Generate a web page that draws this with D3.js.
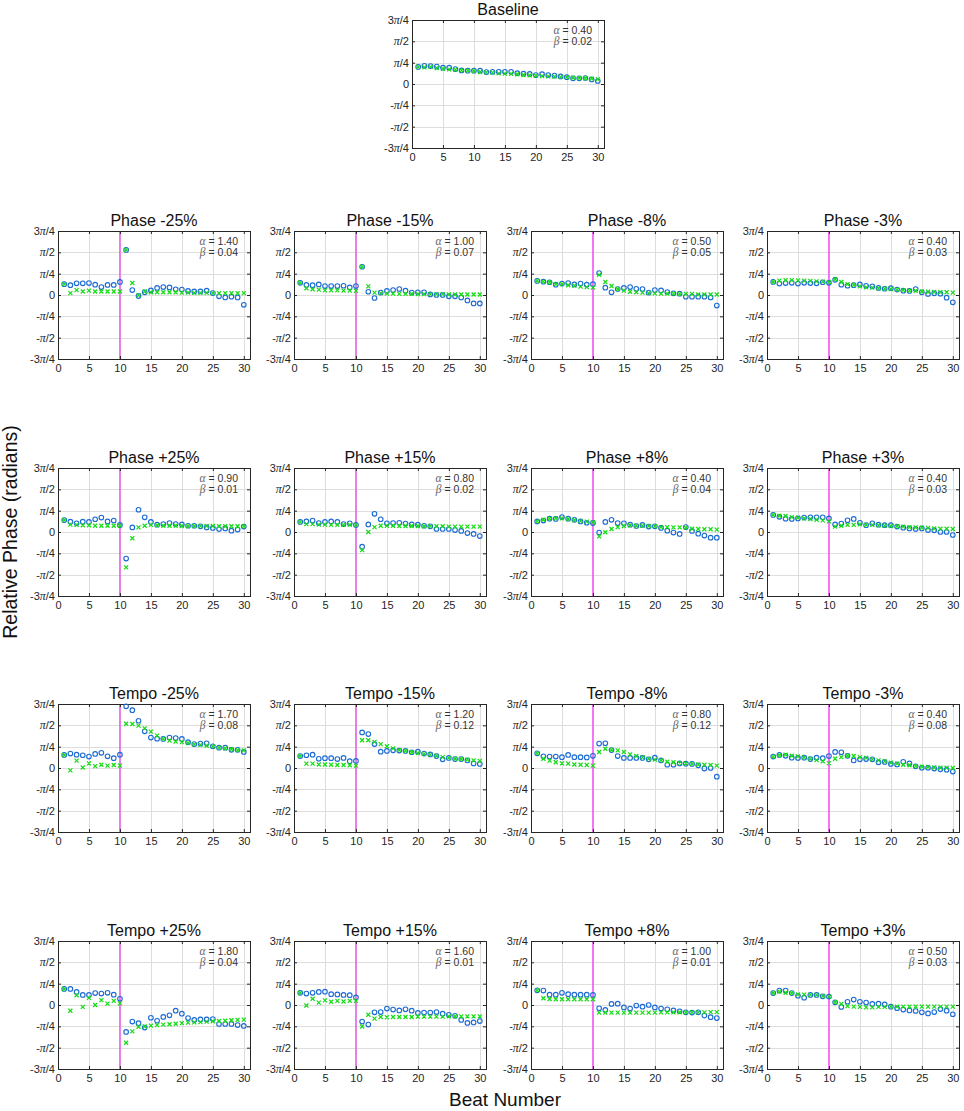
<!DOCTYPE html>
<html>
<head>
<meta charset="utf-8">
<script src="https://cdn.jsdelivr.net/npm/d3@7"></script>
<style>
  body { margin: 0; background: #fff; }
  svg { display: block; font-family: "Liberation Sans", Arial, Helvetica, sans-serif; font-weight: 400; }
</style>
</head>
<body>
<div id="chart"></div>
<script>
// Chart data
var beats = [1,2,3,4,5,6,7,8,9,10,11,12,13,14,15,16,17,18,19,20,21,22,23,24,25,26,27,28,29,30];
var perturbationBeat = 10;

var panelTitles = ["Baseline",
  "Phase -25%", "Phase -15%", "Phase -8%", "Phase -3%",
  "Phase +25%", "Phase +15%", "Phase +8%", "Phase +3%",
  "Tempo -25%", "Tempo -15%", "Tempo -8%", "Tempo -3%",
  "Tempo +25%", "Tempo +15%", "Tempo +8%", "Tempo +3%"];
var alphaValues = ["0.40", "1.40", "1.00", "0.50", "0.40", "0.90", "0.80", "0.40", "0.40",
  "1.70", "1.20", "0.80", "0.40", "1.80", "1.60", "1.00", "0.50"];
var betaValues = ["0.02", "0.04", "0.07", "0.05", "0.03", "0.01", "0.02", "0.04", "0.03",
  "0.08", "0.12", "0.12", "0.08", "0.04", "0.01", "0.01", "0.03"];

var xTickValues = [0, 5, 10, 15, 20, 25, 30];
var yTickValues = [-3*Math.PI/4, -Math.PI/2, -Math.PI/4, 0, Math.PI/4, Math.PI/2, 3*Math.PI/4];
var yTickLabels = ["-3π/4", "-π/2", "-π/4", "0", "π/4", "π/2", "3π/4"];

// observed phase (blue circles) and model fit (green crosses), radians
var obsBaseline = [0.63,0.67,0.66,0.64,0.60,0.60,0.55,0.50,0.49,0.49,0.49,0.44,0.45,0.45,0.45,0.45,0.40,0.38,0.37,0.33,0.36,0.33,0.31,0.28,0.25,0.21,0.21,0.22,0.17,0.11];
var fitBaseline = [0.63,0.61,0.63,0.59,0.56,0.54,0.53,0.50,0.49,0.48,0.44,0.43,0.42,0.39,0.38,0.37,0.36,0.33,0.32,0.31,0.29,0.28,0.27,0.26,0.25,0.23,0.22,0.21,0.20,0.18];

var obsPhaseM25 = [0.40,0.36,0.43,0.43,0.44,0.38,0.29,0.37,0.37,0.48,1.66,0.18,-0.04,0.10,0.17,0.26,0.29,0.28,0.21,0.20,0.15,0.13,0.13,0.16,0.07,-0.05,-0.09,-0.06,-0.09,-0.36];
var fitPhaseM25 = [0.40,0.07,0.18,0.13,0.16,0.13,0.13,0.13,0.13,0.13,1.66,0.44,-0.01,0.13,0.10,0.10,0.10,0.10,0.10,0.09,0.09,0.08,0.08,0.08,0.07,0.07,0.07,0.07,0.07,0.07];
var obsPhaseM15 = [0.45,0.37,0.36,0.39,0.33,0.33,0.33,0.34,0.28,0.33,1.04,0.12,-0.11,0.09,0.15,0.18,0.22,0.16,0.09,0.10,0.10,0.02,0.00,0.00,-0.05,-0.05,-0.09,-0.20,-0.31,-0.31];
var fitPhaseM15 = [0.45,0.25,0.21,0.20,0.17,0.17,0.17,0.16,0.16,0.15,1.04,0.32,0.09,0.07,0.05,0.05,0.04,0.04,0.04,0.03,0.03,0.03,0.03,0.03,0.02,0.02,0.02,0.02,0.02,0.02];
var obsPhaseM8 = [0.52,0.49,0.47,0.38,0.42,0.44,0.39,0.42,0.38,0.40,0.81,0.27,0.10,0.22,0.26,0.29,0.23,0.22,0.09,0.18,0.17,0.11,0.06,0.05,-0.06,-0.06,-0.06,-0.06,-0.09,-0.39];
var fitPhaseM8 = [0.52,0.49,0.47,0.40,0.40,0.36,0.34,0.31,0.29,0.27,0.74,0.48,0.33,0.22,0.16,0.12,0.10,0.09,0.07,0.06,0.05,0.05,0.05,0.04,0.04,0.04,0.02,0.02,0.02,0.02];
var obsPhaseM3 = [0.48,0.42,0.44,0.45,0.42,0.45,0.44,0.43,0.47,0.45,0.56,0.38,0.34,0.36,0.39,0.34,0.32,0.26,0.23,0.25,0.20,0.16,0.15,0.22,0.10,0.04,0.06,0.05,-0.10,-0.27];
var fitPhaseM3 = [0.48,0.53,0.55,0.55,0.54,0.53,0.52,0.50,0.49,0.48,0.58,0.48,0.40,0.37,0.32,0.28,0.27,0.25,0.23,0.22,0.20,0.18,0.16,0.15,0.13,0.12,0.11,0.10,0.10,0.09];

var obsPhaseP25 = [0.44,0.38,0.32,0.38,0.37,0.47,0.53,0.39,0.42,0.26,-0.98,0.17,0.82,0.54,0.37,0.27,0.29,0.33,0.29,0.28,0.23,0.23,0.21,0.17,0.15,0.11,0.13,0.05,0.09,0.20];
var fitPhaseP25 = [0.44,0.27,0.26,0.25,0.25,0.23,0.23,0.23,0.23,0.23,-1.30,-0.23,0.17,0.23,0.26,0.25,0.23,0.23,0.23,0.22,0.22,0.22,0.22,0.22,0.22,0.21,0.21,0.21,0.21,0.21];
var obsPhaseP15 = [0.37,0.39,0.42,0.33,0.37,0.39,0.37,0.29,0.32,0.26,-0.54,0.28,0.67,0.47,0.32,0.33,0.34,0.31,0.28,0.27,0.23,0.21,0.11,0.11,0.11,0.07,0.04,-0.04,-0.07,-0.15];
var fitPhaseP15 = [0.37,0.29,0.29,0.27,0.27,0.26,0.26,0.26,0.26,0.26,-0.67,0.00,0.18,0.23,0.23,0.23,0.22,0.22,0.22,0.22,0.21,0.21,0.21,0.21,0.20,0.20,0.20,0.20,0.20,0.20];
var obsPhaseP8 = [0.39,0.42,0.49,0.48,0.55,0.49,0.45,0.39,0.34,0.33,-0.02,0.37,0.45,0.33,0.32,0.27,0.22,0.26,0.20,0.21,0.15,0.05,-0.02,-0.07,0.18,0.04,-0.06,-0.13,-0.21,-0.21];
var fitPhaseP8 = [0.39,0.45,0.49,0.50,0.50,0.48,0.44,0.40,0.38,0.36,-0.16,-0.01,0.11,0.18,0.22,0.25,0.23,0.23,0.22,0.21,0.18,0.18,0.17,0.17,0.16,0.12,0.11,0.10,0.10,0.09];
var obsPhaseP3 = [0.63,0.56,0.49,0.48,0.50,0.53,0.54,0.54,0.54,0.50,0.28,0.31,0.43,0.48,0.34,0.25,0.32,0.27,0.25,0.25,0.20,0.16,0.13,0.11,0.13,0.07,0.06,0.00,0.00,-0.11];
var fitPhaseP3 = [0.63,0.60,0.59,0.55,0.53,0.50,0.48,0.45,0.43,0.39,0.20,0.23,0.26,0.26,0.28,0.26,0.26,0.25,0.23,0.22,0.21,0.20,0.18,0.17,0.16,0.15,0.13,0.12,0.12,0.11];

var obsTempoM25 = [0.48,0.53,0.49,0.47,0.42,0.52,0.56,0.43,0.36,0.49,2.27,2.13,1.74,1.35,1.12,1.08,1.07,1.12,1.10,1.07,0.95,0.88,0.90,0.91,0.80,0.75,0.75,0.67,0.67,0.59];
var fitTempoM25 = [0.48,-0.09,0.27,0.02,0.17,0.07,0.12,0.09,0.11,0.09,1.63,1.62,1.56,1.46,1.34,1.19,1.07,1.01,0.97,0.95,0.92,0.87,0.85,0.82,0.79,0.75,0.72,0.69,0.66,0.65];
var obsTempoM15 = [0.44,0.47,0.49,0.34,0.36,0.36,0.33,0.37,0.25,0.26,1.31,1.25,0.88,0.60,0.63,0.65,0.64,0.63,0.58,0.60,0.53,0.50,0.44,0.32,0.37,0.33,0.33,0.28,0.17,0.15];
var fitTempoM15 = [0.44,0.16,0.16,0.13,0.13,0.12,0.11,0.11,0.10,0.09,1.02,1.02,0.96,0.88,0.80,0.72,0.66,0.63,0.58,0.55,0.52,0.49,0.45,0.40,0.37,0.34,0.33,0.31,0.28,0.26];
var obsTempoM8 = [0.54,0.43,0.42,0.42,0.40,0.48,0.40,0.40,0.39,0.45,0.90,0.91,0.66,0.44,0.37,0.37,0.37,0.37,0.32,0.38,0.28,0.12,0.12,0.17,0.16,0.15,0.10,-0.02,0.00,-0.32];
var fitTempoM8 = [0.54,0.34,0.27,0.21,0.17,0.16,0.13,0.12,0.11,0.09,0.59,0.71,0.67,0.65,0.59,0.50,0.44,0.39,0.34,0.31,0.28,0.23,0.21,0.18,0.17,0.15,0.13,0.12,0.11,0.09];
var obsTempoM3 = [0.42,0.48,0.45,0.38,0.37,0.38,0.33,0.38,0.36,0.44,0.59,0.58,0.45,0.28,0.32,0.33,0.32,0.21,0.22,0.15,0.13,0.23,0.17,0.06,0.01,0.01,-0.02,-0.05,-0.06,-0.13];
var fitTempoM3 = [0.42,0.47,0.49,0.45,0.43,0.39,0.34,0.29,0.25,0.18,0.34,0.40,0.45,0.44,0.40,0.37,0.32,0.28,0.25,0.20,0.16,0.12,0.10,0.07,0.05,0.04,0.02,0.01,0.01,0.00];

var obsTempoP25 = [0.59,0.59,0.48,0.37,0.37,0.44,0.42,0.45,0.38,0.23,-0.99,-0.61,-0.67,-0.83,-0.47,-0.58,-0.44,-0.38,-0.21,-0.32,-0.48,-0.55,-0.53,-0.53,-0.52,-0.70,-0.70,-0.70,-0.74,-0.77];
var fitTempoP25 = [0.59,-0.21,0.36,-0.07,0.26,0.00,0.18,0.05,0.15,0.06,-1.39,-0.97,-0.80,-0.79,-0.76,-0.74,-0.72,-0.71,-0.69,-0.67,-0.65,-0.64,-0.63,-0.61,-0.60,-0.59,-0.58,-0.56,-0.55,-0.54];
var obsTempoP15 = [0.45,0.42,0.45,0.48,0.49,0.40,0.39,0.37,0.36,0.28,-0.61,-0.72,-0.27,-0.26,-0.13,-0.17,-0.20,-0.16,-0.21,-0.29,-0.28,-0.28,-0.26,-0.32,-0.36,-0.40,-0.55,-0.66,-0.64,-0.59];
var fitTempoP15 = [0.45,-0.02,0.23,0.09,0.17,0.12,0.15,0.13,0.15,0.15,-0.79,-0.36,-0.50,-0.44,-0.45,-0.44,-0.44,-0.44,-0.44,-0.43,-0.43,-0.43,-0.43,-0.43,-0.42,-0.42,-0.42,-0.42,-0.42,-0.42];
var obsTempoP8 = [0.54,0.53,0.38,0.38,0.45,0.40,0.38,0.38,0.38,0.37,-0.12,-0.18,0.04,0.05,-0.09,-0.13,-0.02,-0.06,0.00,-0.09,-0.13,-0.16,-0.20,-0.23,-0.27,-0.28,-0.27,-0.39,-0.45,-0.48];
var fitTempoP8 = [0.54,0.25,0.22,0.21,0.21,0.21,0.21,0.21,0.21,0.21,-0.28,-0.28,-0.28,-0.28,-0.28,-0.28,-0.28,-0.28,-0.28,-0.28,-0.27,-0.27,-0.27,-0.27,-0.27,-0.27,-0.27,-0.27,-0.26,-0.26];
var obsTempoP3 = [0.44,0.53,0.53,0.44,0.34,0.27,0.37,0.37,0.32,0.31,0.10,-0.07,0.12,0.20,0.12,0.09,0.04,0.05,0.02,-0.06,-0.12,-0.17,-0.20,-0.22,-0.27,-0.31,-0.26,-0.15,-0.21,-0.34];
var fitTempoP3 = [0.44,0.49,0.45,0.44,0.39,0.38,0.37,0.37,0.33,0.31,0.10,0.04,-0.04,-0.06,-0.07,-0.09,-0.09,-0.07,-0.07,-0.06,-0.06,-0.06,-0.06,-0.06,-0.06,-0.06,-0.06,-0.06,-0.06,-0.06];

var observed = [obsBaseline, obsPhaseM25, obsPhaseM15, obsPhaseM8, obsPhaseM3,
  obsPhaseP25, obsPhaseP15, obsPhaseP8, obsPhaseP3,
  obsTempoM25, obsTempoM15, obsTempoM8, obsTempoM3,
  obsTempoP25, obsTempoP15, obsTempoP8, obsTempoP3];
var fitted = [fitBaseline, fitPhaseM25, fitPhaseM15, fitPhaseM8, fitPhaseM3,
  fitPhaseP25, fitPhaseP15, fitPhaseP8, fitPhaseP3,
  fitTempoM25, fitTempoM15, fitTempoM8, fitTempoM3,
  fitTempoP25, fitTempoP15, fitTempoP8, fitTempoP3];

// Chart parameters
var svgWidth = 964;
var svgHeight = 1111;
var plotW = 192;
var plotH = 128;
var ink = "#262626";

var svg = d3.select("#chart")
  .append("svg")
  .attr("width", svgWidth)
  .attr("height", svgHeight);

var xScale = d3.scaleLinear().domain([0, 31]).range([0, plotW]);
var yScale = d3.scaleLinear().domain([-3 * Math.PI / 4, 3 * Math.PI / 4]).range([plotH, 0]);

function panelOrigin(i) {
  if (i === 0) return [412, 20];
  var r = Math.floor((i - 1) / 4), c = (i - 1) % 4;
  return [Math.round(58 + c * 236.3), Math.round(231 + r * 236.7)];
}

function crisp(v) { return Math.round(v) + 0.5; }

panelTitles.forEach(function(title, i) {
  var pos = panelOrigin(i);
  var g = svg.append("g").attr("transform", `translate(${pos[0]}, ${pos[1]})`);

  // grid
  g.append("g").selectAll("line").data(xTickValues).enter().append("line")
    .attr("x1", d => crisp(xScale(d))).attr("x2", d => crisp(xScale(d)))
    .attr("y1", 0).attr("y2", plotH)
    .attr("stroke", "#dedede");
  g.append("g").selectAll("line").data(yTickValues).enter().append("line")
    .attr("y1", d => crisp(yScale(d))).attr("y2", d => crisp(yScale(d)))
    .attr("x1", 0).attr("x2", plotW)
    .attr("stroke", "#dedede");

  // perturbation marker
  if (i > 0) {
    g.append("line")
      .attr("x1", xScale(perturbationBeat)).attr("x2", xScale(perturbationBeat))
      .attr("y1", 0).attr("y2", plotH)
      .attr("stroke", "#f23cf2")
      .attr("stroke-width", 1.3);
  }

  // axes, ticks pointing inward
  var leftAxis = g.append("g")
    .call(d3.axisLeft(yScale).tickValues(yTickValues).tickSize(-3).tickPadding(3)
      .tickFormat(d => yTickLabels[yTickValues.indexOf(d)]));
  var bottomAxis = g.append("g")
    .attr("transform", `translate(0, ${plotH})`)
    .call(d3.axisBottom(xScale).tickValues(xTickValues).tickSize(-3).tickPadding(5));
  var rightAxis = g.append("g")
    .attr("transform", `translate(${plotW}, 0)`)
    .call(d3.axisRight(yScale).tickValues(yTickValues).tickSize(-3).tickFormat(""));
  var topAxis = g.append("g")
    .call(d3.axisTop(xScale).tickValues(xTickValues).tickSize(-3).tickFormat(""));

  [leftAxis, bottomAxis, rightAxis, topAxis].forEach(function(a) {
    a.select(".domain").remove();
    a.selectAll(".tick line").attr("stroke", ink);
    a.selectAll(".tick text")
      .attr("fill", ink)
      .style("font-family", "'Liberation Sans', Arial, sans-serif")
      .style("font-size", "11px");
  });

  // pi in italic
  leftAxis.selectAll(".tick text").each(function(d) {
    var t = d3.select(this);
    var parts = yTickLabels[yTickValues.indexOf(d)].split("π");
    t.text(null);
    t.append("tspan").text(parts[0]);
    if (parts.length > 1) {
      t.append("tspan")
        .style("font-family", "'Liberation Serif', serif")
        .style("font-style", "italic")
        .style("font-size", "12px")
        .text("π");
      t.append("tspan").text(parts[1]);
    }
  });

  g.append("rect")
    .attr("x", 0.5).attr("y", 0.5)
    .attr("width", plotW).attr("height", plotH)
    .attr("fill", "none")
    .attr("stroke", ink)
    .attr("stroke-width", 1);

  // markers
  g.append("g").selectAll("circle")
    .data(observed[i])
    .enter()
    .append("circle")
    .attr("cx", (d, k) => xScale(beats[k]))
    .attr("cy", d => yScale(d))
    .attr("r", 2.3)
    .attr("fill", "none")
    .attr("stroke", "#1b6ad6")
    .attr("stroke-width", 1.1);

  g.append("g").selectAll("path")
    .data(fitted[i])
    .enter()
    .append("path")
    .attr("transform", (d, k) => `translate(${xScale(beats[k])}, ${yScale(d)})`)
    .attr("d", "M-2,-2L2,2M-2,2L2,-2")
    .attr("stroke", "#12dc12")
    .attr("stroke-width", 1.2);

  // title
  g.append("text")
    .attr("x", plotW / 2)
    .attr("y", -5)
    .attr("text-anchor", "middle")
    .style("font-size", "16px")
    .style("font-weight", "400")
    .attr("fill", "#111")
    .text(title);

  // parameter estimates
  [["α", alphaValues[i], 13.5], ["β", betaValues[i], 24.5]].forEach(function(p) {
    var t = g.append("text")
      .attr("x", plotW - 12)
      .attr("y", p[2])
      .attr("text-anchor", "end")
      .style("font-size", "10.5px")
      .attr("fill", "#333");
    t.append("tspan")
      .style("font-family", "'Liberation Serif', serif")
      .style("font-style", "italic")
      .style("font-size", "11.5px")
      .attr("fill", "#666")
      .text(p[0]);
    t.append("tspan").text(" = " + p[1]);
  });
});

svg.append("text")
  .attr("transform", "translate(17, 532) rotate(-90)")
  .attr("text-anchor", "middle")
  .style("font-size", "19.5px")
  .style("font-weight", "400")
  .attr("fill", "#111")
  .text("Relative Phase (radians)");

svg.append("text")
  .attr("x", 505)
  .attr("y", 1106)
  .attr("text-anchor", "middle")
  .style("font-size", "19px")
  .style("font-weight", "400")
  .attr("fill", "#111")
  .text("Beat Number");
</script>
</body>
</html>
